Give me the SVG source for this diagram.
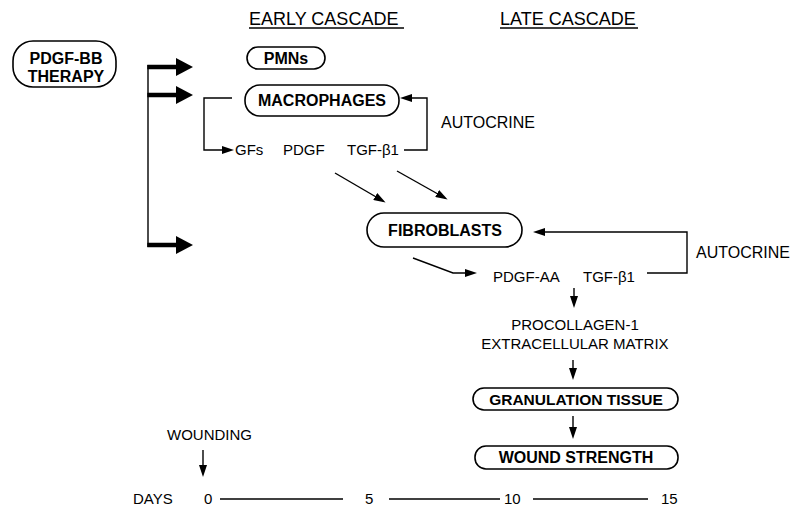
<svg xmlns="http://www.w3.org/2000/svg" width="793" height="509" viewBox="0 0 793 509">
<style>
text{font-family:"Liberation Sans",Arial,Helvetica,sans-serif;fill:#000}
.t{font-size:15px}
.a{font-size:16px}
.b{font-size:16px;font-weight:bold}
.h{font-size:18px}
.m{text-anchor:middle}
.box{fill:#fff;stroke:#000;stroke-width:1.6}
.ln{fill:none;stroke:#000;stroke-width:1.4}
.thick{fill:none;stroke:#000;stroke-width:4.5}
</style>
<defs>
<marker id="ah" viewBox="0 0 12 8" refX="9" refY="4" markerWidth="12" markerHeight="8" markerUnits="userSpaceOnUse" orient="auto"><path d="M0,0 L12,4 L0,8 z" fill="#000"/></marker>
<marker id="big" viewBox="0 0 17 18" refX="5" refY="9" markerWidth="17" markerHeight="18" markerUnits="userSpaceOnUse" orient="auto"><path d="M0,0 L17,9 L0,18 z" fill="#000"/></marker>
</defs>
<rect width="793" height="509" fill="#fff"/>

<g id="headers">
<text class="h" x="249" y="25">EARLY CASCADE</text>
<line class="ln" x1="249" y1="28" x2="404" y2="28"/>
<text class="h" x="500" y="25">LATE CASCADE</text>
<line class="ln" x1="500" y1="28" x2="638" y2="28"/>
</g>

<g id="therapy">
<rect class="box" x="13" y="41" width="103" height="46" rx="20"/>
<text class="b m" x="66" y="64">PDGF-BB</text>
<text class="b m" x="66" y="82">THERAPY</text>
</g>

<g id="pmns">
<rect class="box" x="247" y="47" width="78" height="22" rx="11"/>
<text class="b m" x="286" y="64">PMNs</text>
</g>

<g id="macrophages">
<rect class="box" x="245" y="85" width="154" height="31" rx="15"/>
<text class="b m" x="322" y="106">MACROPHAGES</text>
</g>

<g id="early-factors">
<text class="t" x="235" y="155">GFs</text>
<text class="t" x="283" y="155">PDGF</text>
<text class="t" x="347" y="155">TGF-β1</text>
</g>

<g id="autocrine1">
<text class="a" x="441" y="128">AUTOCRINE</text>
</g>

<g id="fibroblasts">
<rect class="box" x="367" y="213" width="155" height="34" rx="17"/>
<text class="b m" x="445" y="236">FIBROBLASTS</text>
</g>

<g id="autocrine2">
<text class="a" x="696" y="258">AUTOCRINE</text>
</g>

<g id="late-factors">
<text class="t" x="493" y="282">PDGF-AA</text>
<text class="t" x="583" y="282">TGF-β1</text>
</g>

<g id="procollagen">
<text class="t m" x="575" y="330">PROCOLLAGEN-1</text>
<text class="t m" x="575" y="349">EXTRACELLULAR MATRIX</text>
</g>

<g id="granulation">
<rect class="box" x="473" y="388" width="205" height="22" rx="11"/>
<text class="b m" x="576" y="405" style="font-size:15.5px">GRANULATION TISSUE</text>
</g>

<g id="wound-strength">
<rect class="box" x="475" y="446" width="203" height="23" rx="11"/>
<text class="b m" x="576" y="463">WOUND STRENGTH</text>
</g>

<g id="wounding">
<text class="t" x="167" y="440">WOUNDING</text>
</g>

<g id="timeline">
<text class="t" x="133" y="504">DAYS</text>
<text class="t" x="204" y="504">0</text>
<text class="t" x="365" y="504">5</text>
<text class="t" x="504" y="504">10</text>
<text class="t" x="661" y="504">15</text>
<line class="ln" x1="220" y1="499" x2="343" y2="499"/>
<line class="ln" x1="389" y1="499" x2="500" y2="499"/>
<line class="ln" x1="533" y1="499" x2="648" y2="499"/>
</g>

<g id="connectors">
<line class="ln" x1="148" y1="65" x2="148" y2="247"/>
<line class="thick" x1="147.3" y1="67" x2="181" y2="67" marker-end="url(#big)"/>
<line class="thick" x1="147.3" y1="95" x2="181" y2="95" marker-end="url(#big)"/>
<line class="thick" x1="147.3" y1="245" x2="181" y2="245" marker-end="url(#big)"/>
<polyline class="ln" points="232,98 204,98 204,150 231,150" marker-end="url(#ah)"/>
<polyline class="ln" points="404,150 427,150 427,98 403,98" marker-end="url(#ah)"/>
<line class="ln" x1="335" y1="173" x2="383" y2="201" marker-end="url(#ah)"/>
<line class="ln" x1="397" y1="171" x2="445" y2="198" marker-end="url(#ah)"/>
<polyline class="ln" points="647,273 687,273 687,232 536,232" marker-end="url(#ah)"/>
<polyline class="ln" points="413,258 453,273 474,273" marker-end="url(#ah)"/>
<line class="ln" x1="574" y1="288" x2="574" y2="305" marker-end="url(#ah)"/>
<line class="ln" x1="573" y1="360" x2="573" y2="377" marker-end="url(#ah)"/>
<line class="ln" x1="573" y1="416" x2="573" y2="436" marker-end="url(#ah)"/>
<line class="ln" x1="203" y1="450" x2="203" y2="474" marker-end="url(#ah)"/>
</g>
</svg>
